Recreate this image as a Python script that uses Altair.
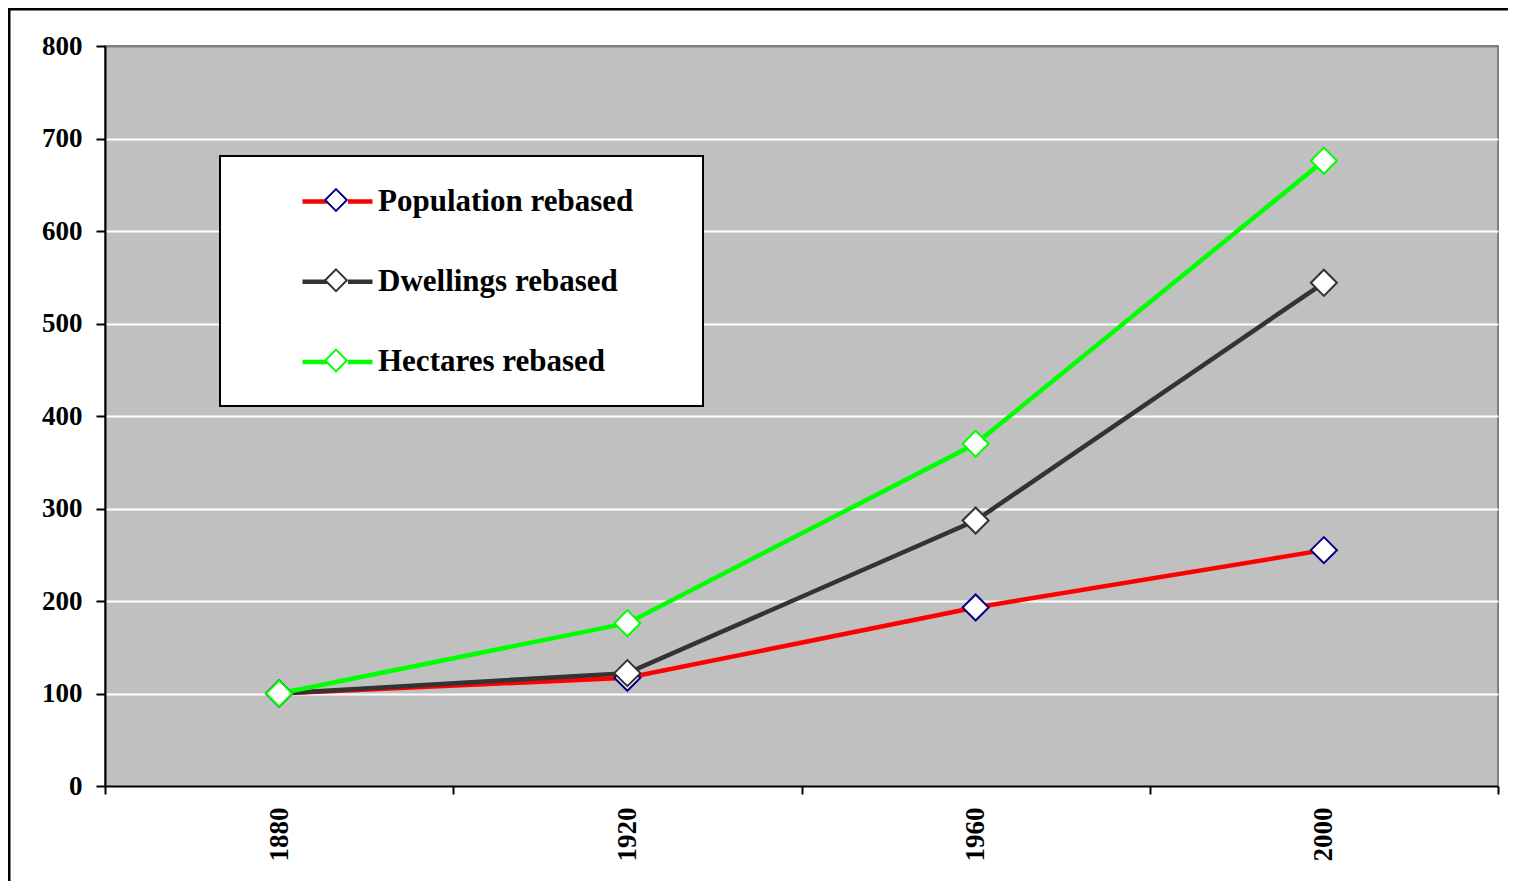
import altair as alt
import pandas as pd

# ---- data ----
years = ["1880", "1920", "1960", "2000"]
series_names = ["Population rebased", "Dwellings rebased", "Hectares rebased"]
population = [100, 117, 193, 255]
dwellings = [100, 122, 287, 544]
hectares = [100, 176, 370, 676]
y_ticks = [0, 100, 200, 300, 400, 500, 600, 700, 800]

line_colors = ["#FF0000", "#333333", "#00FF00"]
marker_colors = ["#000080", "#333333", "#00FF00"]

rows = []
for name, vals in zip(series_names, [population, dwellings, hectares]):
    for yr, v in zip(years, vals):
        rows.append({"year": yr, "value": v, "series": name, "marker": name})
df = pd.DataFrame(rows)

FONT = "Liberation Serif"
W, H = 1393, 740
pad_txt = "\u00a0" * 5 + "\u2800"

leg_common = dict(
    orient="none", legendX=115, legendY=110, title=None,
    padding=8, symbolSize=4900, symbolOffset=72, labelOffset=3,
    labelFont=FONT, labelFontSize=31, labelFontWeight="bold", labelLimit=2000,
    labelColor="black",
)
leg_lines = alt.Legend(
    **leg_common, rowPadding=7.25,
    symbolType="M-1,0L-0.3,0M0.3,0L1,0M0,0.75",
    symbolStrokeWidth=4.5, labelExpr=f"datum.label + '{pad_txt}'",
    fillColor="white", strokeColor="black", zindex=0,
)
leg_marks = alt.Legend(
    **leg_common, rowPadding=13.25,
    symbolType="M0,-0.31L0.31,0L0,0.31L-0.31,0ZM0,0.75",
    symbolStrokeWidth=2, symbolFillColor="white", labelExpr="'\u00a0'", zindex=1,
)

base = alt.Chart(df).encode(
    x=alt.X(
        "year:O", bandPosition=0.5,
        scale=alt.Scale(type="band", paddingInner=0, paddingOuter=0),
        axis=alt.Axis(
            title=None, labelAngle=270, labelFont=FONT, labelFontSize=27,
            labelFontWeight="bold", labelColor="black", labelPadding=13,
            tickSize=8, tickWidth=2, tickColor="black",
            domainColor="black", domainWidth=2, grid=False, tickBand="extent",
        ),
    ),
    y=alt.Y(
        "value:Q",
        scale=alt.Scale(domain=[0, 800], nice=False, zero=True),
        axis=alt.Axis(
            values=y_ticks, title=None, labelFont=FONT, labelFontSize=27,
            labelFontWeight="bold", labelColor="black", labelPadding=14,
            tickSize=9, tickWidth=2, tickColor="black",
            domainColor="black", domainWidth=2, grid=True,
            gridColor={"condition": {"test": "datum.value >= 800", "value": "#808080"}, "value": "white"},
            gridWidth=2, gridOpacity=1,
        ),
    ),
)

lines = base.mark_line(strokeWidth=4.5).encode(
    color=alt.Color("series:N", scale=alt.Scale(domain=series_names, range=line_colors), legend=leg_lines),
)
points = base.mark_point(shape="diamond", filled=True, fill="white", size=680, strokeWidth=2, opacity=1).encode(
    stroke=alt.Stroke("marker:N", sort=series_names, scale=alt.Scale(range=marker_colors), legend=leg_marks),
)

deco = alt.Chart(pd.DataFrame({"a": [0]}))
border_left = deco.mark_rule(color="black", strokeWidth=3).encode(
    x=alt.value(-96), y=alt.value(-38), y2=alt.value(H + 95)
)
border_top = deco.mark_rule(color="black", strokeWidth=3).encode(
    y=alt.value(-37), x=alt.value(-97), x2=alt.value(W + 10)
)

chart = (
    alt.layer(lines, points, border_left, border_top)
    .properties(
        width=W, height=H,
        autosize=alt.AutoSizeParams(type="none"),
        padding={"left": 97, "top": 38, "right": 10, "bottom": 95},
        background="white",
    )
    .configure(font=FONT)
    .configure_view(fill="#C0C0C0", stroke="#808080", strokeWidth=2)
    .configure_legend(strokeWidth=2)
)

chart.save("out.html", embed_options={"renderer": "svg", "actions": False})
